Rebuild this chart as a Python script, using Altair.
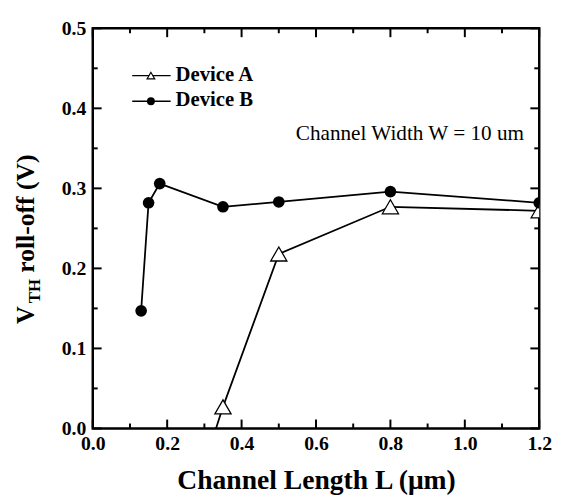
import altair as alt
import pandas as pd

# ---- data ----
L_A = [0.30, 0.35, 0.50, 0.80, 1.20]
V_A = [-0.045, 0.027, 0.218, 0.277, 0.272]
L_B = [0.13, 0.15, 0.18, 0.35, 0.50, 0.80, 1.20]
V_B = [0.147, 0.282, 0.306, 0.277, 0.283, 0.296, 0.282]

X_MAJOR = [0.0, 0.2, 0.4, 0.6, 0.8, 1.0, 1.2]
X_MINOR = [0.1, 0.3, 0.5, 0.7, 0.9, 1.1]
Y_MAJOR = [0.0, 0.1, 0.2, 0.3, 0.4, 0.5]
Y_MINOR = [0.05, 0.15, 0.25, 0.35, 0.45]

LEGEND_A = ["Device A"]
LEGEND_B = ["Device B"]
X_TITLE = "Channel Length L (μm)"
Y_T1 = ["V"]
Y_T2 = ["TH"]
Y_T3 = ["roll-off (V)"]
NOTE = ["Channel Width W = 10 um"]

FONT = "Liberation Serif, Times New Roman, Times, DejaVu Serif, serif"
W, H = 453, 406

dfA = pd.DataFrame({"L": L_A, "V": V_A})
dfB = pd.DataFrame({"L": L_B, "V": V_B})
df_all = pd.concat([dfA, dfB], ignore_index=True)

xs = alt.Scale(domain=[0, 1.2], nice=False, zero=False)
ys = alt.Scale(domain=[0, 0.5], nice=False, zero=False)

lab = dict(format=".1f", labelFont=FONT, labelFontWeight="bold", labelFontSize=20,
           labelColor="black", labelFlush=False, labelOverlap=False, labelBound=False,
           domain=False, grid=False, ticks=False, tickSize=0)

# axes carry only labels and the x title
ax_main = alt.Chart(df_all).mark_point(opacity=0).encode(
    x=alt.X("L:Q", scale=xs, title=X_TITLE,
            axis=alt.Axis(orient="bottom", values=X_MAJOR, labelPadding=5,
                          titleFont=FONT, titleFontWeight="bold", titleFontSize=28,
                          titleColor="black", titlePadding=14, **lab)),
    y=alt.Y("V:Q", scale=ys, title=None,
            axis=alt.Axis(orient="left", values=Y_MAJOR, labelPadding=7, **lab)),
)

# inward ticks on all four sides
xmaj = pd.DataFrame({"v": X_MAJOR})
xmin = pd.DataFrame({"v": X_MINOR})
ymaj = pd.DataFrame({"v": Y_MAJOR})
ymin = pd.DataFrame({"v": Y_MINOR})


def xticks(df, y1, y2):
    return alt.Chart(df).mark_rule(color="black", strokeWidth=2).encode(
        x=alt.X("v:Q", scale=xs, axis=None), y=alt.value(y1), y2=alt.value(y2))


def yticks(df, x1, x2):
    return alt.Chart(df).mark_rule(color="black", strokeWidth=2).encode(
        y=alt.Y("v:Q", scale=ys, axis=None), x=alt.value(x1), x2=alt.value(x2))


ticks = [
    xticks(xmaj, H - 9, H), xticks(xmin, H - 5, H),
    xticks(xmaj, 0, 9), xticks(xmin, 0, 5),
    yticks(ymaj, 0, 9), yticks(ymin, 0, 5),
    yticks(ymaj, W - 9, W), yticks(ymin, W - 5, W),
]

enc = dict(x=alt.X("L:Q", scale=xs, axis=None), y=alt.Y("V:Q", scale=ys, axis=None))

lineA = alt.Chart(dfA).mark_line(color="black", strokeWidth=1.8, clip=True).encode(**enc)
lineB = alt.Chart(dfB).mark_line(color="black", strokeWidth=1.8, clip=True).encode(**enc)
ptsA = alt.Chart(dfA).mark_point(shape="triangle-up", filled=True, fill="white",
                                 stroke="black", strokeWidth=1.3, size=270,
                                 opacity=1, clip=True).encode(**enc)
ptsB = alt.Chart(dfB).mark_circle(color="black", size=140, opacity=1,
                                  clip=True).encode(**enc)

# legend (manual)
legA_df = pd.DataFrame({"t": LEGEND_A})
legB_df = pd.DataFrame({"t": LEGEND_B})
legA_line = alt.Chart(legA_df).mark_rule(color="black", strokeWidth=1.5).encode(
    x=alt.value(40), x2=alt.value(79), y=alt.value(48))
legB_line = alt.Chart(legB_df).mark_rule(color="black", strokeWidth=1.5).encode(
    x=alt.value(40), x2=alt.value(79), y=alt.value(74))
legA_pt = alt.Chart(legA_df).mark_point(shape="triangle-up", filled=True, fill="white",
                                        stroke="black", strokeWidth=1.2, size=60,
                                        opacity=1).encode(x=alt.value(59), y=alt.value(48))
legB_pt = alt.Chart(legB_df).mark_circle(color="black", size=64, opacity=1).encode(
    x=alt.value(59), y=alt.value(74))
txt_style = dict(align="left", baseline="middle", font=FONT, fontWeight="bold",
                 fontSize=21, color="black")
legA_txt = alt.Chart(legA_df).mark_text(**txt_style).encode(
    x=alt.value(84), y=alt.value(47), text="t:N")
legB_txt = alt.Chart(legB_df).mark_text(**txt_style).encode(
    x=alt.value(84), y=alt.value(73), text="t:N")

note = alt.Chart(pd.DataFrame({"t": NOTE})).mark_text(
    align="left", baseline="middle", font=FONT, fontSize=21.5, color="black").encode(
    x=alt.value(206), y=alt.value(107), text="t:N")

# y title (manual, with subscript)
yt_style = dict(angle=270, align="left", baseline="alphabetic", font=FONT,
                fontWeight="bold", color="black")
yt1 = alt.Chart(pd.DataFrame({"t": Y_T1})).mark_text(fontSize=25, **yt_style).encode(
    x=alt.value(-60), y=alt.value(300), text="t:N")
yt2 = alt.Chart(pd.DataFrame({"t": Y_T2})).mark_text(fontSize=17, **yt_style).encode(
    x=alt.value(-54), y=alt.value(279), text="t:N")
yt3 = alt.Chart(pd.DataFrame({"t": Y_T3})).mark_text(fontSize=26, **yt_style).encode(
    x=alt.value(-60), y=alt.value(248), text="t:N")

chart = alt.layer(
    ax_main, *ticks,
    lineB, lineA, ptsA, ptsB,
    legA_line, legB_line, legA_pt, legB_pt, legA_txt, legB_txt,
    note, yt1, yt2, yt3,
).resolve_axis(x="independent", y="independent").properties(
    width=W, height=H,
    autosize=alt.AutoSizeParams(type="none"),
    padding={"left": 86, "top": 17, "right": 16, "bottom": 70},
    background="white",
).configure_view(stroke="black", strokeWidth=2.5)

chart.save("out.html", embed_options={"renderer": "svg", "actions": False})
